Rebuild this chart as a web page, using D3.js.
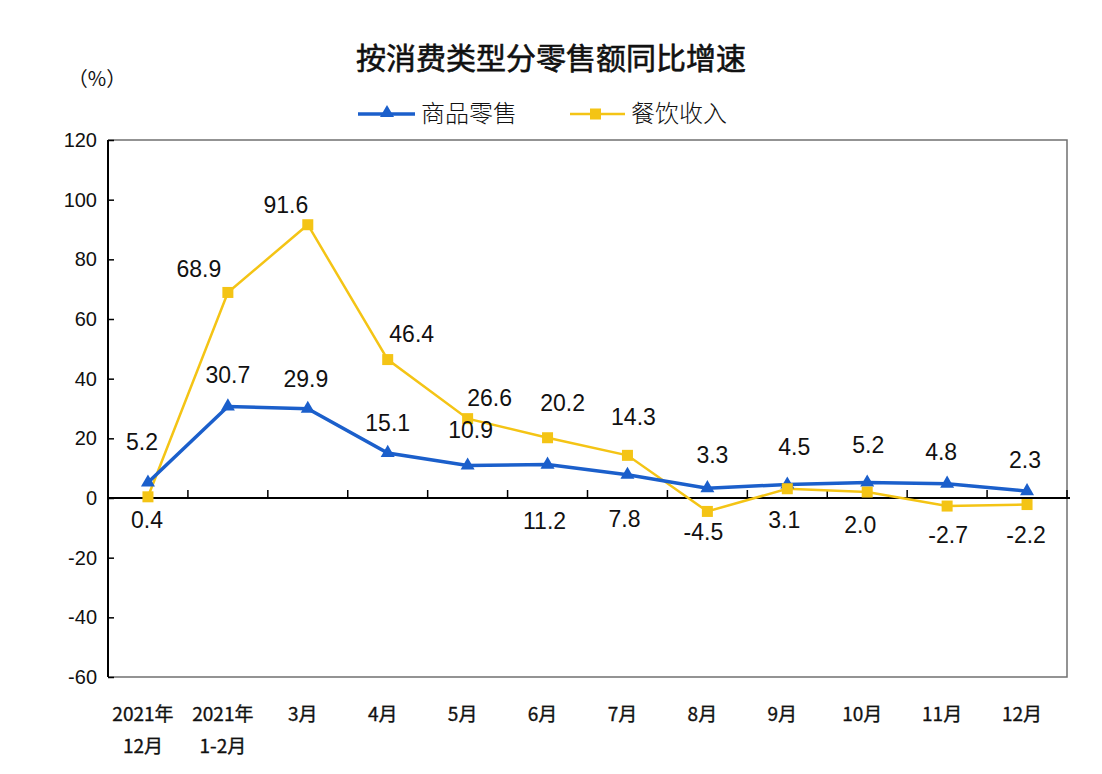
<!DOCTYPE html>
<html><head><meta charset="utf-8">
<script src="https://cdn.jsdelivr.net/npm/d3@7/dist/d3.min.js"></script>
<style>body{margin:0;background:#fff}</style>
</head><body><svg id="c" width="1102" height="774"></svg>
<script>
const categories = ["2021年|12月","2021年|1-2月","3月","4月","5月","6月","7月","8月","9月","10月","11月","12月"];
const retailGoods = [5.2,30.7,29.9,15.1,10.9,11.2,7.8,3.3,4.5,5.2,4.8,2.3];
const catering = [0.4,68.9,91.6,46.4,26.6,20.2,14.3,-4.5,3.1,2.0,-2.7,-2.2];
const yTicks = [-60,-40,-20,0,20,40,60,80,100,120];
const seriesNames = ["商品零售","餐饮收入"];

// label offsets (layout only)
const goodsLabelOff = [[-6,-41],[0,-31],[-2,-30],[0,-30],[3,-36],[-3,56],[-3,44],[5,-33],[7,-38],[1,-38],[-6,-32],[-2,-31]];
const cateringLabelOff = [[-1,23],[-29,-23],[-22,-20],[24,-26],[22,-21],[15,-35],[6,-38],[-4,21],[-3,31],[-7,33],[1,29],[-1,30]];

const svg = d3.select("#c");
const L=108,R=1067,T=140,B=677;
const x = d3.scaleBand().domain(categories).range([L,R]).padding(0);
const y = d3.scaleLinear().domain([-60,120]).range([B,T]);
const cx = d => x(d)+x.bandwidth()/2;
const blue="#1B5FCB", yellow="#F4C415";

// frame
svg.append("path").attr("d",`M${L},${T}H${R}V${B}H${L}`).attr("fill","none").attr("stroke","#707070").attr("stroke-width",1.5);
// y axis
const ya = svg.append("g").attr("transform",`translate(${L},0)`)
  .call(d3.axisRight(y).tickValues(yTicks).tickSize(6).tickFormat(""));
ya.select(".domain").attr("stroke","#000").attr("stroke-width",2).attr("d",`M0,${T}V${B}`);
ya.selectAll(".tick line").attr("stroke","#000").attr("stroke-width",1.5);
svg.append("g").selectAll("text").data(yTicks).join("text")
  .attr("x",97).attr("y",d=>y(d)).attr("dy","0.35em").attr("text-anchor","end")
  .attr("font-family","Liberation Sans, Arial").attr("font-size",20).attr("fill","#111").text(d=>d);
// zero line with ticks
const xa = svg.append("g").attr("transform",`translate(0,${y(0)})`)
  .call(d3.axisTop(x).tickValues([]).tickSizeOuter(0));
xa.select(".domain").attr("stroke","#000").attr("stroke-width",2).attr("d",`M${L},0H${R+3}`);
svg.append("g").selectAll("line").data(categories).join("line")
  .attr("x1",d=>x(d)+x.bandwidth()).attr("x2",d=>x(d)+x.bandwidth())
  .attr("y1",y(0)).attr("y2",y(0)-8).attr("stroke","#000").attr("stroke-width",1.5);

// x labels
const xl = svg.append("g").selectAll("text").data(categories).join("text")
  .attr("font-family","Noto Sans CJK SC").attr("font-size",19).attr("font-weight",400)
  .attr("fill","#111").attr("stroke","#111").attr("stroke-width",0.35).attr("text-anchor","middle");
xl.each(function(d){
  const parts=d.split("|"); const t=d3.select(this);
  parts.forEach((p,i)=>t.append("tspan").attr("x",cx(d)-5).attr("y",721+i*32).text(p));
});

// lines
const line = vals => d3.line().x((d,i)=>cx(categories[i])).y(d=>y(d))(vals);
svg.append("path").attr("d",line(catering)).attr("fill","none").attr("stroke",yellow).attr("stroke-width",2.5);
svg.append("path").attr("d",line(retailGoods)).attr("fill","none").attr("stroke",blue).attr("stroke-width",3.5);
// markers
svg.append("g").selectAll("path").data(retailGoods).join("path")
  .attr("transform",(d,i)=>`translate(${cx(categories[i])},${y(d)})`)
  .attr("d",d3.symbol(d3.symbolTriangle,85)).attr("fill",blue);
svg.append("g").selectAll("rect").data(catering).join("rect")
  .attr("x",(d,i)=>cx(categories[i])-5.5).attr("y",d=>y(d)-5.5).attr("width",11).attr("height",11).attr("fill",yellow);

// data labels
const lab = (vals,off) => svg.append("g").selectAll("text").data(vals).join("text")
  .attr("x",(d,i)=>cx(categories[i])+off[i][0]).attr("y",(d,i)=>y(d)+off[i][1]).attr("dy","0.35em")
  .attr("text-anchor","middle").attr("font-family","Liberation Sans, Arial").attr("font-size",23).attr("fill","#111")
  .text(d=>d.toFixed(1));
lab(retailGoods,goodsLabelOff);
lab(catering,cateringLabelOff);

// title
svg.append("text").attr("x",551).attr("y",69).attr("text-anchor","middle").attr("font-family","Noto Sans CJK SC")
  .attr("font-size",30).attr("font-weight",400).attr("fill","#111").attr("stroke","#111").attr("stroke-width",0.6)
  .text("按消费类型分零售额同比增速");
svg.append("text").attr("x",97).attr("y",86).attr("text-anchor","middle").attr("font-family","Noto Sans CJK SC")
  .attr("font-size",20).attr("fill","#111").text("（%）");

// legend
const lg = svg.append("g");
lg.append("line").attr("x1",358).attr("x2",415).attr("y1",114).attr("y2",114).attr("stroke",blue).attr("stroke-width",3.5);
lg.append("path").attr("transform","translate(387,113)").attr("d",d3.symbol(d3.symbolTriangle,85)).attr("fill",blue);
lg.append("text").attr("x",421).attr("y",122).attr("font-family","Noto Sans CJK SC").attr("font-size",24).attr("font-weight",300).attr("fill","#111").text(seriesNames[0]);
lg.append("line").attr("x1",570).attr("x2",625).attr("y1",114).attr("y2",114).attr("stroke",yellow).attr("stroke-width",2.5);
lg.append("rect").attr("x",590).attr("y",108.5).attr("width",11).attr("height",11).attr("fill",yellow);
lg.append("text").attr("x",631).attr("y",122).attr("font-family","Noto Sans CJK SC").attr("font-size",24).attr("font-weight",300).attr("fill","#111").text(seriesNames[1]);
</script></body></html>
